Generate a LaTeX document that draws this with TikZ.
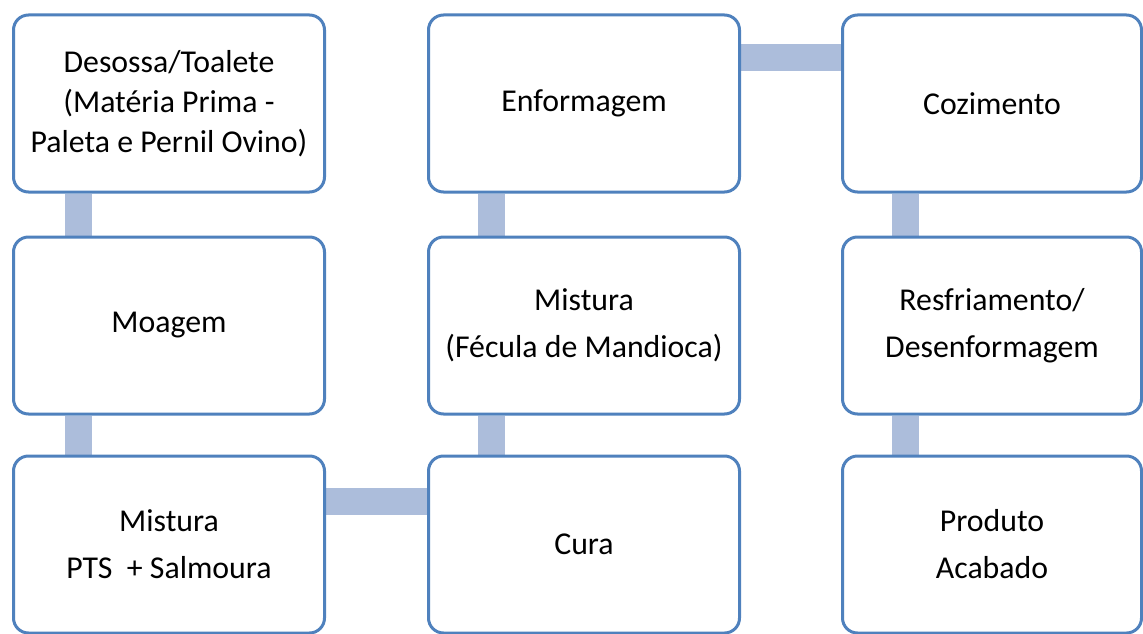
\documentclass[tikz,border=0pt]{standalone}
\usepackage{fontspec}
\setmainfont{Carlito}
\usetikzlibrary{backgrounds}
\definecolor{boxblue}{RGB}{79,129,189}
\definecolor{linkblue}{RGB}{172,189,219}

\begin{document}
\begin{tikzpicture}[x=1pt,y=-1pt,
    stage/.style={draw=boxblue, line width=3pt, rounded corners=15pt, fill=white,
        minimum width=311pt, minimum height=177pt, inner sep=0pt, align=center,
        font=\fontsize{31.8}{47}\selectfont},
    link/.style={draw=linkblue, line width=27pt}]
    \useasboundingbox (0,0) rectangle (1143,634);

    % Define nodes
    \node[stage] (desossa) at (169,103.5) {Desossa/Toalete\\[-7pt](Matéria Prima -\\[-7pt]Paleta e Pernil Ovino)};
    \node[stage] (moagem) at (169,325.5) {Moagem};
    \node[stage] (mistura) at (169,544.5) {Mistura\\PTS \ + Salmoura};

    \node[stage] (cura) at (584,544.5) {Cura};
    \node[stage] (fecula) at (584,325.5) {Mistura\\(Fécula de Mandioca)};
    \node[stage] (enformagem) at (584,103.5) {Enformagem};

    \node[stage, minimum width=299pt] (cozimento) at (992,103.5) {Cozimento};
    \node[stage, minimum width=299pt] (resfriamento) at (992,325.5) {Resfriamento/\\Desenformagem};
    \node[stage, minimum width=299pt] (produto) at (992,544.5) {Produto\\Acabado};

    % Draw connectors
    \begin{scope}[on background layer]
        \draw[link] ([xshift=-91pt]desossa.south) -- ([xshift=-91pt]moagem.north);
        \draw[link] ([xshift=-91pt]moagem.south) -- ([xshift=-91pt]mistura.north);
        \draw[link] ([yshift=43.5pt]mistura.east) -- ([yshift=43.5pt]cura.west);
        \draw[link] ([xshift=-93pt]cura.north) -- ([xshift=-93pt]fecula.south);
        \draw[link] ([xshift=-93pt]fecula.north) -- ([xshift=-93pt]enformagem.south);
        \draw[link] ([yshift=45.5pt]enformagem.east) -- ([yshift=45.5pt]cozimento.west);
        \draw[link] ([xshift=-86.5pt]cozimento.south) -- ([xshift=-86.5pt]resfriamento.north);
        \draw[link] ([xshift=-86.5pt]resfriamento.south) -- ([xshift=-86.5pt]produto.north);
    \end{scope}
\end{tikzpicture}
\end{document}
